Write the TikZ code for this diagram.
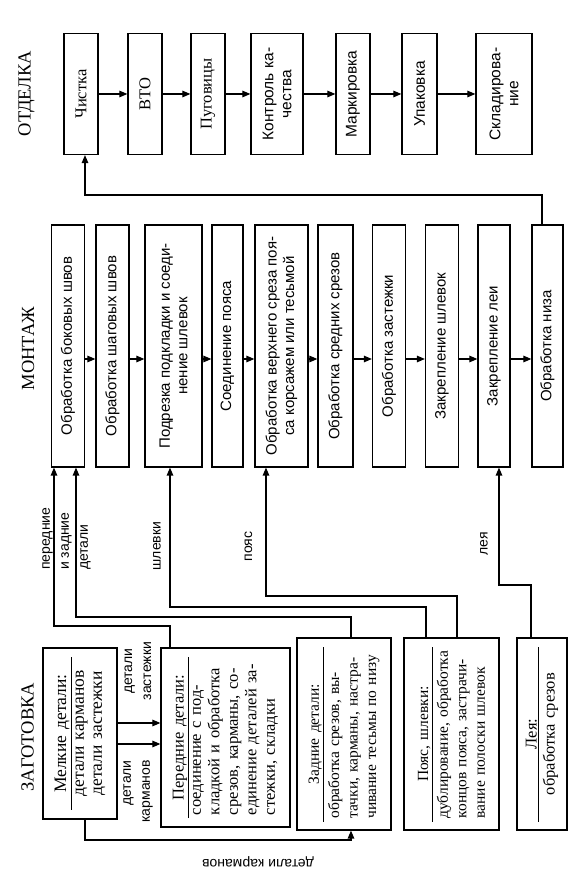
\documentclass[tikz,border=0pt]{standalone}
\usepackage{fontspec}
\setmainfont{Liberation Serif}
\setsansfont{Liberation Sans}
\usetikzlibrary{arrows.meta}

% header of a blank box with a rule under it, and a justified line
\newcommand{\zhead}[1]{{\centering #1\par}\vspace{1pt}\hrule height 1.1pt\vspace{4pt}}
\newcommand{\jl}[1]{\hspace*{3pt}\makebox[\dimexpr\linewidth-6pt\relax][s]{#1}}

\tikzset{
  box/.style={draw, line width=1.2pt, inner sep=2pt, align=center},
  otdbox/.style={box, minimum width=121, minimum height=34, font=\fontsize{16.5}{19}\selectfont},
  otdsans/.style={otdbox, font=\sffamily\fontsize{15.5}{18}\selectfont},
  montbox/.style={box, minimum width=242, minimum height=33, font=\sffamily\fontsize{15}{17.5}\selectfont},
  zagbox/.style={box, align=left, inner xsep=8pt, font=\fontsize{15.5}{18.5}\selectfont},
  stage/.style={font=\fontsize{18.5}{22}\selectfont},
  lbl/.style={inner sep=0pt, font=\sffamily\fontsize{14}{19}\selectfont},
  link/.style={line width=1.2pt},
  arr/.style={link, -{Triangle[length=8pt,width=6.5pt]}},
}

\begin{document}
\begin{tikzpicture}[x=1pt, y=1pt, rotate=90, transform shape]
\useasboundingbox (0,0) rectangle (876,570);
% Stage titles
\node[stage] (tzag) at (139,542.5) {ЗАГОТОВКА};
\node[stage] (tmont) at (527.5,542) {МОНТАЖ};
\node[stage] (totd) at (782.5,543.5) {ОТДЕЛКА};
% Blanks
\node[zagbox, minimum width=171, minimum height=74, text width=153pt, font=\fontsize{17.5}{18}\selectfont] (small) at (142.5,490)
  {\zhead{Мелкие детали:}{\centering детали карманов\\детали застежки\par}};
\node[zagbox, minimum width=179, minimum height=129, text width=161pt, font=\fontsize{16.5}{18.5}\selectfont] (front) at (138.5,344.5)
  {\zhead{Передние детали:}\jl{соединение с под-}\\\jl{кладкой и обработка}\\\jl{срезов, карманы, со-}\\\jl{единение деталей за-}\\\hspace*{3pt}стежки, складки};
\node[zagbox, minimum width=192, minimum height=94, text width=175pt] (back) at (142,226)
  {\zhead{Задние детали:}\jl{обработка срезов, вы-}\\\jl{тачки, карманы, настра-}\\\jl{чивание тесьмы по низу}};
\node[zagbox, minimum width=192, minimum height=95, text width=175pt] (belt) at (142,118.5)
  {\zhead{Пояс, шлевки:}\jl{дублирование, обработка}\\\jl{концов пояса, застрачи-}\\\jl{вание полоски шлевок}};
\node[zagbox, minimum width=192, minimum height=50, text width=175pt, font=\fontsize{16.5}{18}\selectfont] (leya) at (142,28)
  {\zhead{Лея:}{\centering обработка срезов\par}};
% Assembly
\node[montbox] (side) at (530,502) {Обработка боковых швов};
\node[montbox] (inseam) at (530,457.5) {Обработка шаговых швов};
\node[montbox, minimum height=57] (lining) at (530,396.5) {Подрезка подкладки и соеди-\\нение шлевок};
\node[montbox, minimum height=31] (beltjoin) at (530,342.5) {Соединение пояса};
\node[montbox, minimum height=53] (topedge) at (530,288.5) {Обработка верхнего среза поя-\\са корсажем или тесьмой};
\node[montbox, minimum height=35] (midseam) at (530,234.5) {Обработка средних срезов};
\node[montbox] (fly) at (530,181) {Обработка застежки};
\node[montbox] (loops) at (530,128) {Закрепление шлевок};
\node[montbox, minimum height=32] (leyafix) at (530,76) {Закрепление леи};
\node[montbox, minimum height=31] (hem) at (530,22.5) {Обработка низа};
% Finishing
\node[otdbox] (clean) at (782,489) {Чистка};
\node[otdbox] (vto) at (782,425) {ВТО};
\node[otdbox] (buttons) at (782,362) {Пуговицы};
\node[otdsans, minimum height=52] (control) at (782,293) {Контроль ка-\\чества};
\node[otdsans] (marking) at (782,217) {Маркировка};
\node[otdsans, minimum height=35] (packing) at (782,150.5) {Упаковка};
\node[otdsans, minimum height=56] (storing) at (782,66) {Складирова-\\ние};
% Chains inside the stages
\foreach \a/\b in {clean/vto, vto/buttons, buttons/control, control/marking, marking/packing, packing/storing}
  \draw[arr] (\a) -- (\b);
\coordinate (mcol) at (517,0);
\foreach \a/\b in {side/inseam, inseam/lining, lining/beltjoin, beltjoin/topedge, topedge/midseam, midseam/fly, fly/loops, loops/leyafix, leyafix/hem}
  \draw[arr] (\a.south -| mcol) -- (\b.north -| mcol);
% Hem back to cleaning
\coordinate (ret1) at (681,28);
\coordinate (ret2) at (681,485);
\draw[arr] (hem.east |- ret1) -- (ret1) -- (ret2) -- (clean.west |- ret2);
% Small parts
\coordinate (zip) at (153,0);
\coordinate (pock) at (132,0);
\draw[arr] (small.south -| zip) -- (front.north -| zip);
\draw[arr] (small.south -| pock) -- (front.north -| pock);
\node[lbl, align=center] (zipl) at (205,432) {детали\\застежки};
\node[lbl, align=right, anchor=east] (pockl) at (116,432) {детали\\карманов};
\coordinate (pk1) at (36,485);
\coordinate (pk2) at (36,219);
\draw[arr] (small.west |- pk1) -- (pk1) -- (pk2) -- (back.west |- pk2);
\node[lbl, rotate=90] (pkl) at (14,312) {детали карманов};
% Blanks to assembly
\coordinate (a1) at (250,400); \coordinate (a2) at (250,516);
\draw[arr] (front.east |- a1) -- (a1) -- (a2) -- (side.west |- a2);
\coordinate (b1) at (259,219); \coordinate (b2) at (259,494);
\draw[arr] (back.east |- b1) -- (b1) -- (b2) -- (side.west |- b2);
\coordinate (c1) at (269,144); \coordinate (c2) at (269,400);
\draw[arr] (belt.east |- c1) -- (c1) -- (c2) -- (lining.west |- c2);
\coordinate (d1) at (280,113); \coordinate (d2) at (280,304);
\draw[arr] (belt.east |- d1) -- (d1) -- (d2) -- (topedge.west |- d2);
\coordinate (e1) at (291,39); \coordinate (e2) at (291,71);
\draw[arr] (leya.east |- e1) -- (e1) -- (e2) -- (leyafix.west |- e2);
\node[lbl, anchor=west, align=left] (fbl) at (306,503.5) {передние\\и задние\\детали};
\node[lbl] (loopl) at (330,413) {шлевки};
\node[lbl] (beltl) at (329.5,321.5) {пояс};
\node[lbl] (leyal) at (332,86) {лея};
\end{tikzpicture}
\end{document}
